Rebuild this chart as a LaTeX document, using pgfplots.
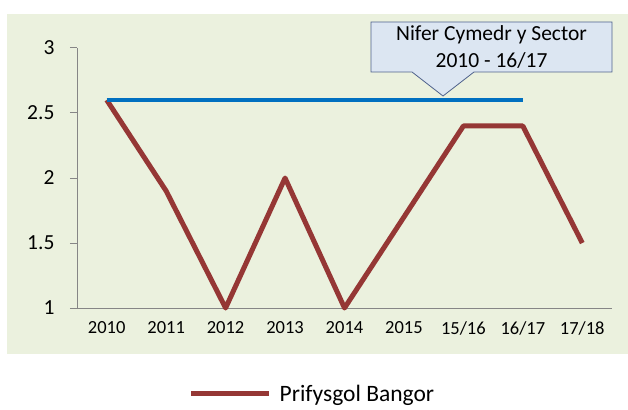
\documentclass[border=0pt]{standalone}
\usepackage{fontspec}
\setmainfont{Carlito}
\usepackage{pgfplots}
\pgfplotsset{compat=1.18}
\definecolor{BgGreen}{RGB}{235,241,222}
\definecolor{BarRed}{RGB}{149,55,53}
\definecolor{LineBlue}{RGB}{0,112,192}
\definecolor{AxisGray}{RGB}{134,134,134}
\definecolor{BoxFill}{RGB}{220,230,242}
\definecolor{BoxEdge}{RGB}{79,98,140}

\begin{document}
\begin{tikzpicture}
\path[use as bounding box] (-77pt,-101pt) rectangle (551pt,308pt);
\fill[BgGreen] (-70pt,-46pt) rectangle (551pt,294pt);
\begin{axis}[
  scale only axis,
  width=535pt, height=260pt,
  xmin=-0.5, xmax=8.5,
  ymin=1, ymax=3,
  axis lines=left,
  axis line style={AxisGray, line width=1pt, -},
  xtick={0,...,8},
  xticklabels={2010,2011,2012,2013,2014,2015,15/16,16/17,17/18},
  x tick style={draw=none},
  extra x ticks={-0.5,0.5,...,8.5},
  extra x tick labels={},
  extra x tick style={tick style={AxisGray, line width=1pt}, major tick length=6pt, tick align=outside},
  ytick={1,1.5,2,2.5,3},
  y tick style={AxisGray, line width=1pt},
  tick align=outside,
  major tick length=7pt,
  tick label style={black},
  xticklabel style={font=\fontsize{18.5}{22}\selectfont, yshift=-3pt},
  yticklabel style={font=\fontsize{21.5}{24}\selectfont, xshift=-12pt},
  /pgf/number format/assume math mode=true,
  clip=false,
  legend style={at={(rel axis cs:0.44,-0.33)}, anchor=center, draw=none, fill=none,
    font=\fontsize{23.5}{28}\selectfont, column sep=6pt, inner sep=0pt},
  legend image code/.code={\draw[#1] (0pt,0pt) -- (78pt,0pt);},
]
\addplot[BarRed, line width=5pt, line join=round] coordinates {
  (0,2.6) (1,1.9) (2,1.0) (3,2.0) (4,1.0) (5,1.7) (6,2.4) (7,2.4) (8,1.5)};
\addlegendentry{Prifysgol Bangor}
\addplot[LineBlue, line width=4pt, forget plot] coordinates {
  (0,2.6) (1,2.6) (2,2.6) (3,2.6) (4,2.6) (5,2.6) (6,2.6) (7,2.6)};
\end{axis}
\draw[BoxEdge, fill=BoxFill, line width=0.8pt]
  (294pt,236pt) -- (335pt,236pt) -- (366pt,212pt) -- (397pt,236pt) --
  (535pt,236pt) -- (535pt,286pt) -- (294pt,286pt) -- cycle;
\node[align=center, font=\fontsize{21.5}{27}\selectfont] at (414.5pt,261pt)
  {Nifer Cymedr y Sector\\2010 - 16/17};
\end{tikzpicture}
\end{document}
